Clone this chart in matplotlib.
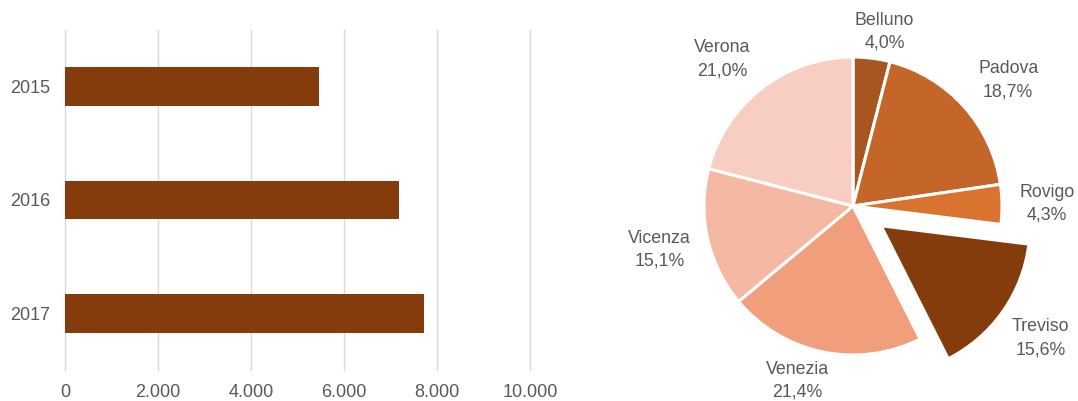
import matplotlib
matplotlib.use("Agg")
import matplotlib.pyplot as plt
import numpy as np

plt.rcParams['font.family'] = ['Liberation Sans', 'DejaVu Sans']

# Bar data
years = ["2015", "2016", "2017"]
values = [5460, 7180, 7720]
xticks = [0, 2000, 4000, 6000, 8000, 10000]
xtick_labels = ["0", "2.000", "4.000", "6.000", "8.000", "10.000"]

# Pie data
provinces = ["Belluno", "Padova", "Rovigo", "Treviso", "Venezia", "Vicenza", "Verona"]
shares = [4.0, 18.7, 4.3, 15.6, 21.4, 15.1, 21.0]
share_labels = ["4,0%", "18,7%", "4,3%", "15,6%", "21,4%", "15,1%", "21,0%"]

colors = ["#A8561F", "#C4662A", "#D9732F", "#843C0C", "#F09E7C", "#F4B8A3", "#F8CEC2"]
explode = [0, 0, 0, 0.23, 0, 0, 0]
label_dist = [1.19, 1.34, 1.30, 1.31, 1.23, 1.33, 1.32]
label_dang = [-3, -3, 0, 0, -6, 0, 4]

W, H = 1078, 401
fig = plt.figure(figsize=(W / 100, H / 100), dpi=100)
txt = "#595959"
px = 72 / 100  # points per pixel

# Bar chart
ax = fig.add_axes([65 / W, (H - 370) / H, 465 / W, 340 / H])
y = np.arange(len(years))
ax.barh(y, values, height=0.34, color="#843C0C", zorder=3)
ax.set_ylim(len(years) - 0.5, -0.5)
ax.set_xlim(0, 10000)
ax.set_yticks(y)
ax.set_yticklabels(years)
ax.set_xticks(xticks)
ax.set_xticklabels(xtick_labels)
ax.grid(axis="x", color="#D9D9D9", linewidth=1, zorder=0)
for gl in ax.get_xgridlines():
    gl.set_clip_on(False)
for s in ax.spines.values():
    s.set_visible(False)
ax.tick_params(axis="both", length=0, labelsize=13, colors=txt)
ax.tick_params(axis="x", pad=14 * px)
ax.tick_params(axis="y", pad=15 * px)

# Pie chart
R = 149
cx, cy = 853, 206
half = 200
pax = fig.add_axes([(cx - half) / W, (H - cy - half) / H, 2 * half / W, 2 * half / H])
wedges, _ = pax.pie(shares, colors=colors, explode=explode, startangle=90, counterclock=False,
                    wedgeprops=dict(edgecolor="white", linewidth=2.2))
lim = half / R
pax.set_xlim(-lim, lim)
pax.set_ylim(-lim, lim)
pax.set_aspect("equal")
pax.axis("off")
for w, name, lab, d, da in zip(wedges, provinces, share_labels, label_dist, label_dang):
    ang = np.deg2rad((w.theta1 + w.theta2) / 2 + da)
    x0, y0 = w.center
    pax.text(x0 + d * np.cos(ang), y0 + d * np.sin(ang), f"{name}\n{lab}",
             ha="center", va="center", fontsize=12.8, color=txt, linespacing=1.45,
             clip_on=False)

fig.savefig("out.png", dpi=100)
